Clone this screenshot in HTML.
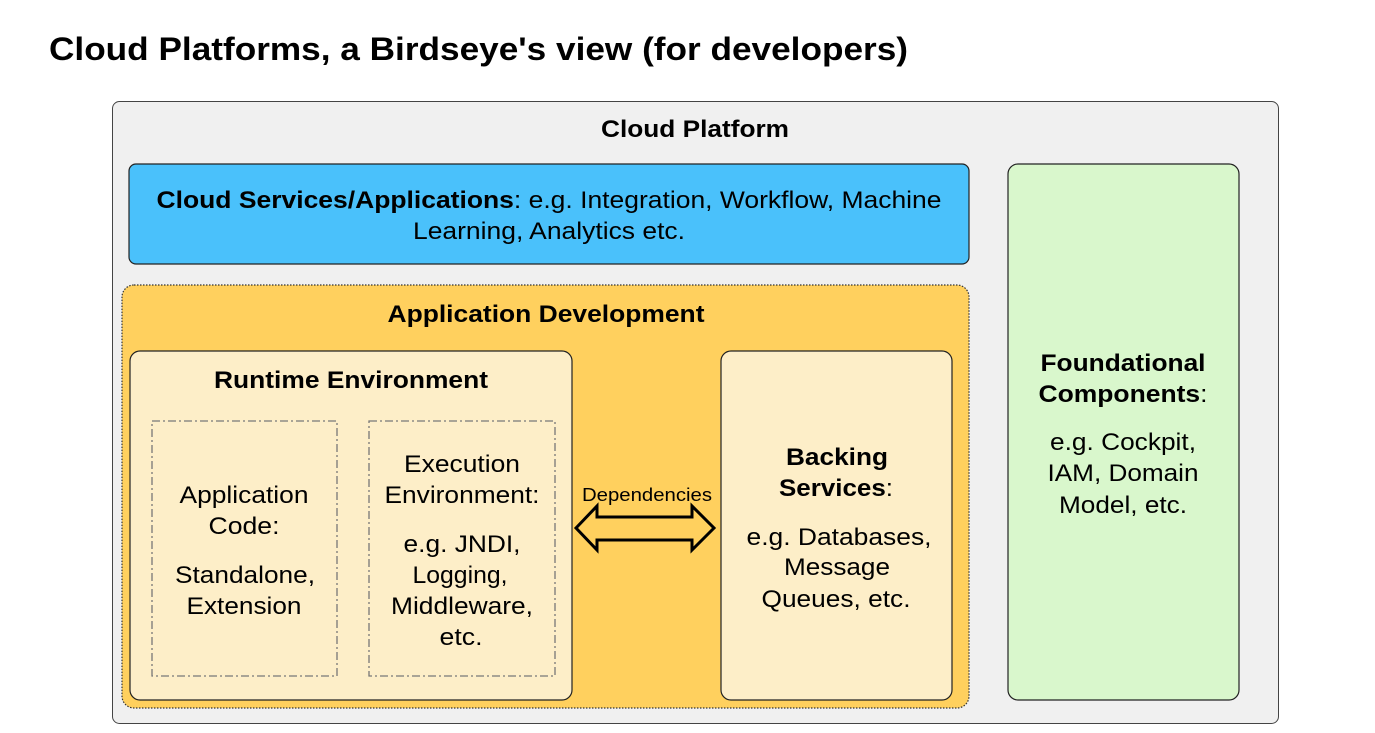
<!DOCTYPE html>
<html><head><meta charset="utf-8"><style>
body{margin:0;background:#fff;}
svg text{font-family:"Liberation Sans",Arial,sans-serif;fill:#000;}
</style></head><body>
<svg width="1375" height="728" viewBox="0 0 1375 728" xmlns="http://www.w3.org/2000/svg">
<text x="49" y="60" font-size="32" font-weight="bold" textLength="859" lengthAdjust="spacingAndGlyphs">Cloud Platforms, a Birdseye's view (for developers)</text>
<rect x="112.5" y="101.5" width="1166" height="622" rx="7" fill="#f0f0f0" stroke="#444" stroke-width="1"/>
<text x="695" y="137" font-size="24" font-weight="bold" text-anchor="middle" textLength="188" lengthAdjust="spacingAndGlyphs">Cloud Platform</text>
<rect x="129" y="164" width="840" height="100" rx="7" fill="#4ac1fb" stroke="#222" stroke-width="1.2"/>
<text x="549" y="208" font-size="24" text-anchor="middle" textLength="785" lengthAdjust="spacingAndGlyphs"><tspan font-weight="bold">Cloud Services/Applications</tspan>: e.g. Integration, Workflow, Machine</text>
<text x="549" y="239" font-size="24" text-anchor="middle" textLength="272" lengthAdjust="spacingAndGlyphs">Learning, Analytics etc.</text>
<rect x="122" y="285" width="847" height="423" rx="12" fill="#ffd05e" stroke="#333" stroke-width="1.2" stroke-dasharray="1.5,1.5"/>
<text x="546" y="322" font-size="24" font-weight="bold" text-anchor="middle" textLength="317" lengthAdjust="spacingAndGlyphs">Application Development</text>
<rect x="130" y="351" width="442" height="349" rx="10" fill="#fdeec8" stroke="#222" stroke-width="1.2"/>
<text x="351" y="388" font-size="24" font-weight="bold" text-anchor="middle" textLength="274" lengthAdjust="spacingAndGlyphs">Runtime Environment</text>
<rect x="152" y="421" width="185" height="255" fill="none" stroke="#777" stroke-width="1.3" stroke-dasharray="8,3,2,3"/>
<rect x="369" y="421" width="186" height="255" fill="none" stroke="#777" stroke-width="1.3" stroke-dasharray="8,3,2,3"/>
<g font-size="24" text-anchor="middle" lengthAdjust="spacingAndGlyphs">
<text x="244" y="503" textLength="129" lengthAdjust="spacingAndGlyphs">Application</text>
<text x="244" y="534" textLength="71" lengthAdjust="spacingAndGlyphs">Code:</text>
<text x="245" y="583" textLength="140" lengthAdjust="spacingAndGlyphs">Standalone,</text>
<text x="244" y="614" textLength="115" lengthAdjust="spacingAndGlyphs">Extension</text>
<text x="462" y="472" textLength="116" lengthAdjust="spacingAndGlyphs">Execution</text>
<text x="462" y="503" textLength="155" lengthAdjust="spacingAndGlyphs">Environment:</text>
<text x="462" y="552" textLength="117" lengthAdjust="spacingAndGlyphs">e.g. JNDI,</text>
<text x="460" y="583" textLength="95" lengthAdjust="spacingAndGlyphs">Logging,</text>
<text x="462" y="614" textLength="142" lengthAdjust="spacingAndGlyphs">Middleware,</text>
<text x="461" y="645" textLength="43" lengthAdjust="spacingAndGlyphs">etc.</text>
</g>
<text x="647" y="501" font-size="18" text-anchor="middle" textLength="130" lengthAdjust="spacingAndGlyphs">Dependencies</text>
<polygon points="576,528 597,506 597,517 692,517 692,506 714,528 692,550 692,540 597,540 597,550" fill="none" stroke="#000" stroke-width="3" stroke-linejoin="miter"/>
<rect x="721" y="351" width="231" height="349" rx="10" fill="#fdeec8" stroke="#222" stroke-width="1.2"/>
<g font-size="24" text-anchor="middle">
<text x="837" y="465" font-weight="bold" textLength="102" lengthAdjust="spacingAndGlyphs">Backing</text>
<text x="836" y="496" textLength="114" lengthAdjust="spacingAndGlyphs"><tspan font-weight="bold">Services</tspan>:</text>
<text x="839" y="545" textLength="185" lengthAdjust="spacingAndGlyphs">e.g. Databases,</text>
<text x="837" y="575" textLength="106" lengthAdjust="spacingAndGlyphs">Message</text>
<text x="836" y="607" textLength="149" lengthAdjust="spacingAndGlyphs">Queues, etc.</text>
</g>
<rect x="1008" y="164" width="231" height="536" rx="10" fill="#d9f7cc" stroke="#222" stroke-width="1.2"/>
<g font-size="24" text-anchor="middle">
<text x="1123" y="371" font-weight="bold" textLength="165" lengthAdjust="spacingAndGlyphs">Foundational</text>
<text x="1123" y="402" textLength="169" lengthAdjust="spacingAndGlyphs"><tspan font-weight="bold">Components</tspan>:</text>
<text x="1123" y="450" textLength="146" lengthAdjust="spacingAndGlyphs">e.g. Cockpit,</text>
<text x="1123" y="481" textLength="151" lengthAdjust="spacingAndGlyphs">IAM, Domain</text>
<text x="1123" y="513" textLength="128" lengthAdjust="spacingAndGlyphs">Model, etc.</text>
</g>
</svg>
</body></html>
